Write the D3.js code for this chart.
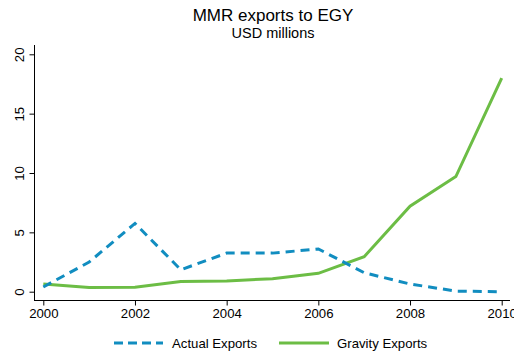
<!DOCTYPE html>
<html><head><meta charset="utf-8">
<script src="https://cdn.jsdelivr.net/npm/d3@7"></script>
<style>body{margin:0;background:#fff}svg{display:block;font-family:"Liberation Sans",Arial,sans-serif}</style>
</head><body><svg id="c" width="514" height="360"></svg>
<script>
const years = [2000,2001,2002,2003,2004,2005,2006,2007,2008,2009,2010];
const actualExports = [0.4,2.5,5.75,1.85,3.25,3.25,3.6,1.6,0.65,0.05,0.0];
const gravityExports = [0.65,0.35,0.38,0.85,0.9,1.1,1.55,2.95,7.2,9.7,18.0];
const xTicks = [2000,2002,2004,2006,2008,2010];
const yTicks = [0,5,10,15,20];

const svg = d3.select("#c");
const x = d3.scaleLinear().domain([2000,2010]).range([43.3,501.7]);
const y = d3.scaleLinear().domain([0,20]).range([291.7,54.3]);

// axes
const xAxis = svg.append("g").attr("transform","translate(0,300.5)")
  .call(d3.axisBottom(x).tickValues(xTicks).tickFormat(d3.format("d")).tickSize(5).tickSizeOuter(0));
xAxis.select(".domain").attr("d","M34,0H510");
xAxis.selectAll("text").attr("font-size",13.2).attr("fill","#000").attr("dy","0.71em").attr("y",8);
const yAxis = svg.append("g").attr("transform","translate(34.5,0)")
  .call(d3.axisLeft(y).tickValues(yTicks).tickSize(5).tickSizeOuter(0));
yAxis.select(".domain").attr("d","M0,45V300");
yAxis.selectAll(".tick text").attr("font-size",13.2).attr("fill","#000")
  .attr("x",0).attr("dy",0).attr("text-anchor","middle")
  .attr("transform","translate(-10.5,0) rotate(-90)");
svg.selectAll(".domain,.tick line").attr("stroke","#000");

const line = d3.line().x((d,i)=>x(years[i])).y(d=>y(d));
svg.append("path").datum(gravityExports).attr("d",line).attr("fill","none")
  .attr("stroke","#6cbd45").attr("stroke-width",3);
svg.append("path").datum(actualExports).attr("d",line).attr("fill","none")
  .attr("stroke","#118dc0").attr("stroke-width",3).attr("stroke-dasharray","9,6");

// title
svg.append("text").attr("x",273).attr("y",21).attr("text-anchor","middle")
  .attr("font-size",17).text("MMR exports to EGY");
svg.append("text").attr("x",273).attr("y",37.5).attr("text-anchor","middle")
  .attr("font-size",14.5).text("USD millions");

// legend
const lg = svg.append("g");
lg.append("line").attr("x1",114).attr("x2",163).attr("y1",343).attr("y2",343)
  .attr("stroke","#118dc0").attr("stroke-width",3).attr("stroke-dasharray","9,5");
lg.append("text").attr("x",172).attr("y",348).attr("font-size",13.2).text("Actual Exports");
lg.append("line").attr("x1",279).attr("x2",329).attr("y1",343).attr("y2",343)
  .attr("stroke","#6cbd45").attr("stroke-width",3);
lg.append("text").attr("x",337).attr("y",348).attr("font-size",13.2).text("Gravity Exports");
</script></body></html>
